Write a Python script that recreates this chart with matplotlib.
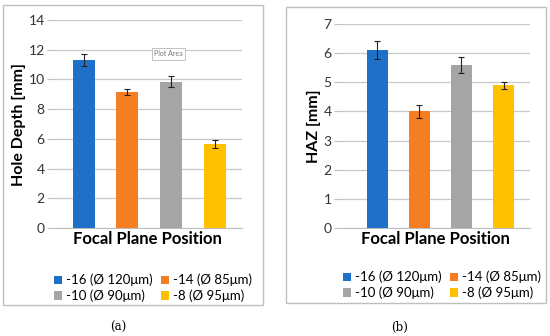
import matplotlib
matplotlib.use("Agg")
import matplotlib.pyplot as plt
from matplotlib.patches import Rectangle

series = ["-16 (Ø 120μm)", "-14 (Ø 85μm)", "-10 (Ø 90μm)", "-8 (Ø 95μm)"]
colors = ["#1F70C8", "#F57E22", "#A5A5A5", "#FFC000"]
depth = [11.3, 9.15, 9.85, 5.65]
depth_err = [0.4, 0.2, 0.35, 0.25]
haz = [6.1, 4.0, 5.6, 4.9]
haz_err = [0.3, 0.22, 0.27, 0.12]

W, H = 550, 336
plt.rcParams['font.family'] = ['Lato', 'DejaVu Sans']
fig = plt.figure(figsize=(W / 100, H / 100), dpi=100)

def fr(x0, y0, x1, y1):
    return [x0 / W, 1 - y1 / H, (x1 - x0) / W, (y1 - y0) / H]

# outer boxes
for (x0, y0, x1, y1) in [(3, 5, 263, 305), (286, 7, 546, 303)]:
    fig.patches.append(Rectangle((x0 / W, 1 - y1 / H), (x1 - x0) / W, (y1 - y0) / H,
                                 transform=fig.transFigure, fill=False,
                                 edgecolor="#BFBFBF", linewidth=1.0))

def panel(rect, vals, errs, ymax, ylabel, xlim, leg_center):
    ax = fig.add_axes(rect)
    xs = range(len(vals))
    bars = []
    for i in xs:
        b = ax.bar(i, vals[i], width=0.5, color=colors[i], label=series[i], zorder=3,
                   yerr=errs[i], capsize=2.5,
                   error_kw=dict(ecolor="#222222", elinewidth=0.8, capthick=0.8))
        bars.append(b)
    ax.set_ylim(0, ymax)
    ax.set_xlim(*xlim)
    ax.set_xticks([])
    ax.yaxis.grid(True, color="#C8C8C8", linewidth=0.9, zorder=0)
    for s in ["top", "right", "left"]:
        ax.spines[s].set_visible(False)
    ax.spines["bottom"].set_color("#BFBFBF")
    ax.tick_params(axis="y", length=4, color="#BFBFBF", labelsize=10,
                   labelcolor="#333333", pad=2)
    ax.set_ylabel(ylabel, fontsize=11.5, fontweight="bold", labelpad=2)
    ax.set_xlabel("Focal Plane Position", fontsize=12, fontweight="bold", labelpad=2)
    order = [0, 2, 1, 3]
    ax.legend([bars[i] for i in order], [series[i] for i in order],
              loc="center", bbox_to_anchor=(leg_center[0] / W, 1 - leg_center[1] / H),
              bbox_transform=fig.transFigure, ncol=2, frameon=False, fontsize=9.5,
              handlelength=0.6, handleheight=0.6, handletextpad=0.3,
              columnspacing=0.6, labelspacing=0.25, borderpad=0)
    return ax

axa = panel(fr(53, 20, 242, 228), depth, depth_err, 14, "Hole Depth [mm]",
            (-0.70, 3.62), (153, 288))
axa.set_yticks(range(0, 15, 2))
axb = panel(fr(340, 24, 530, 228), haz, haz_err, 7, "HAZ [mm]",
            (-0.89, 3.63), (442, 285))
axb.set_yticks(range(0, 8, 1))

# "Plot Area" tooltip
fig.text(168.5 / W, 1 - 54 / H, "Plot Area", fontsize=5, color="#777777",
         ha="center", va="center",
         bbox=dict(boxstyle="square,pad=0.3", fc="white", ec="#AAAAAA", lw=0.5))

fig.text(118 / W, 1 - 327 / H, "(a)", fontsize=8.5, family="DejaVu Serif",
         ha="center", va="center")
fig.text(400 / W, 1 - 327 / H, "(b)", fontsize=8.5, family="DejaVu Serif",
         ha="center", va="center")

fig.savefig("out.png", dpi=100)
